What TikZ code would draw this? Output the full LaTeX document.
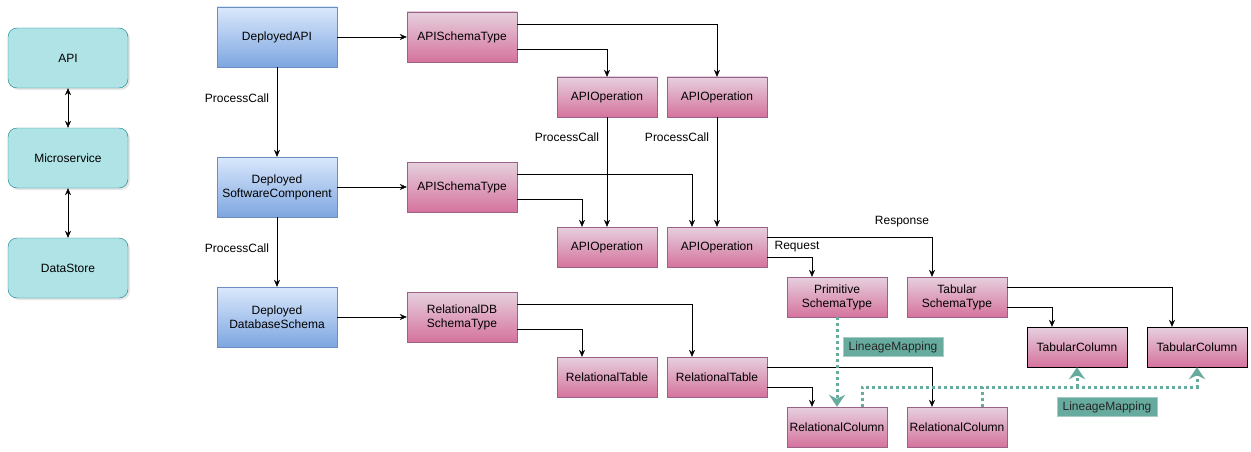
\documentclass[tikz,border=0pt]{standalone}
\usepackage{fontspec}
\setmainfont{Liberation Sans}
\usetikzlibrary{arrows.meta,shadows}

\definecolor{tealfill}{HTML}{B0E3E6}
\definecolor{tealline}{HTML}{0E8088}
\definecolor{bluetop}{HTML}{DAE8FC}
\definecolor{bluebot}{HTML}{7EA6E0}
\definecolor{blueline}{HTML}{6C8EBF}
\definecolor{pinktop}{HTML}{E6D0DE}
\definecolor{pinkbot}{HTML}{D5739D}
\definecolor{pinkline}{HTML}{996185}
\definecolor{lineage}{HTML}{67AB9F}

\tikzset{lmtip/.tip={Stealth[length=12pt,width=16pt,inset=4pt]}}

\begin{document}
\begin{tikzpicture}[x=1pt,y=-1pt,font=\fontsize{12}{14}\selectfont,>={Stealth[length=7pt,width=6pt]}]
\tikzstyle{tier}=[draw=tealline,fill=tealfill,rounded corners=9pt,minimum width=120pt,minimum height=60pt,inner sep=0pt,
  drop shadow={opacity=0.2,shadow xshift=2pt,shadow yshift=-2pt}]
\tikzstyle{dep}=[draw=blueline,top color=bluetop,bottom color=bluebot,minimum width=120pt,minimum height=60pt,inner sep=0pt,align=center]
\tikzstyle{sch}=[draw=pinkline,top color=pinktop,bottom color=pinkbot,minimum width=110pt,minimum height=50pt,inner sep=0pt,align=center]
\tikzstyle{elem}=[draw=pinkline,top color=pinktop,bottom color=pinkbot,minimum width=100pt,minimum height=40pt,inner sep=0pt,align=center]
\tikzstyle{lbl}=[inner sep=1pt]
\tikzstyle{lmbox}=[draw=lineage!60,fill=lineage,minimum width=100pt,minimum height=19pt,inner sep=0pt,text=black!85]
\tikzstyle{lm}=[draw=lineage,fill=none,line width=3pt,dash pattern=on 3pt off 3pt]
\useasboundingbox (0,0) rectangle (1251,452);

   % layers
   \draw (68,58) node (api) [tier] {API};
   \draw (68,158) node (ms) [tier] {Microservice};
   \draw (68,268) node (ds) [tier] {DataStore};
   \path [draw,<->] (api) -- (ms);
   \path [draw,<->] (ms) -- (ds);

   % deployed
   \draw (277,37) node (dapi) [dep] {DeployedAPI};
   \draw (277,187) node (dsc) [dep] {Deployed\\SoftwareComponent};
   \draw (277,317) node (ddb) [dep] {Deployed\\DatabaseSchema};

   % schema types
   \draw (462,37) node (ast1) [sch] {APISchemaType};
   \draw (462,187) node (ast2) [sch] {APISchemaType};
   \draw (462,317) node (rdb) [sch] {RelationalDB\\SchemaType};

   \draw (607,97) node (aop1) [elem] {APIOperation};
   \draw (717,97) node (aop2) [elem] {APIOperation};
   \draw (607,247) node (aop3) [elem] {APIOperation};
   \draw (717,247) node (aop4) [elem] {APIOperation};
   \draw (607,377) node (rt1) [elem] {RelationalTable};
   \draw (717,377) node (rt2) [elem] {RelationalTable};

   \draw (837,297) node (pst) [elem] {Primitive\\SchemaType};
   \draw (957,297) node (tst) [elem] {Tabular\\SchemaType};
   \draw (1077,347) node (tc1) [elem,draw=black] {TabularColumn};
   \draw (1197,347) node (tc2) [elem,draw=black] {TabularColumn};
   \draw (837,427) node (rc1) [elem] {RelationalColumn};
   \draw (957,427) node (rc2) [elem] {RelationalColumn};

   % edge labels
   \draw (237,98) node (pc1) [lbl] {ProcessCall};
   \draw (237,248) node (pc2) [lbl] {ProcessCall};
   \draw (567,137) node (pc3) [lbl] {ProcessCall};
   \draw (677,137) node (pc4) [lbl] {ProcessCall};
   \draw (902,222) node (resp) [lbl] {Response};
   \draw (797,247) node (req) [lbl] {Request};

   \path [draw,->] (dapi) -- (ast1);
   \path [draw,->] (dsc) -- (ast2);
   \path [draw,->] (ddb) -- (rdb);
   \path [draw,->] (dapi) -- (dsc);
   \path [draw,->] (dsc) -- (ddb);

   \path [draw,->] ([yshift=12.5pt]ast1.east) -| (aop2);
   \path [draw,->] ([yshift=-12.5pt]ast1.east) -| (aop1);
   \path [draw,->] (aop1) -- (aop3);
   \path [draw,->] (aop2) -- (aop4);
   \path [draw,->] ([yshift=12.5pt]ast2.east) -| ([xshift=-25pt]aop4.north);
   \path [draw,->] ([yshift=-12.5pt]ast2.east) -| ([xshift=-25pt]aop3.north);
   \path [draw,->] ([yshift=10pt]aop4.east) -| ([xshift=-25pt]tst.north);
   \path [draw,->] ([yshift=-10pt]aop4.east) -| ([xshift=-25pt]pst.north);
   \path [draw,->] ([yshift=10pt]tst.east) -| ([xshift=-25pt]tc2.north);
   \path [draw,->] ([yshift=-10pt]tst.east) -| ([xshift=-25pt]tc1.north);
   \path [draw,->] ([yshift=12.5pt]rdb.east) -| ([xshift=-25pt]rt2.north);
   \path [draw,->] ([yshift=-12.5pt]rdb.east) -| ([xshift=-25pt]rt1.north);
   \path [draw,->] ([yshift=10pt]rt2.east) -| ([xshift=-25pt]rc2.north);
   \path [draw,->] ([yshift=-10pt]rt2.east) -| ([xshift=-25pt]rc1.north);

   % lineage
   \path [lm,-lmtip] (pst) -- (rc1);
   \draw (893,347) node (lm1) [lmbox] {LineageMapping};
   \coordinate (lj) at (1077,387);
   \path [lm,-lmtip] ([xshift=25pt]rc1.north) |- (lj) -| (tc2.south);
   \path [lm] ([xshift=25pt]rc2.north) -- ++(0,-20);
   \path [lm,-lmtip] (lj) -- (tc1.south);
   \draw (1107,407) node (lm2) [lmbox] {LineageMapping};
\end{tikzpicture}
\end{document}
